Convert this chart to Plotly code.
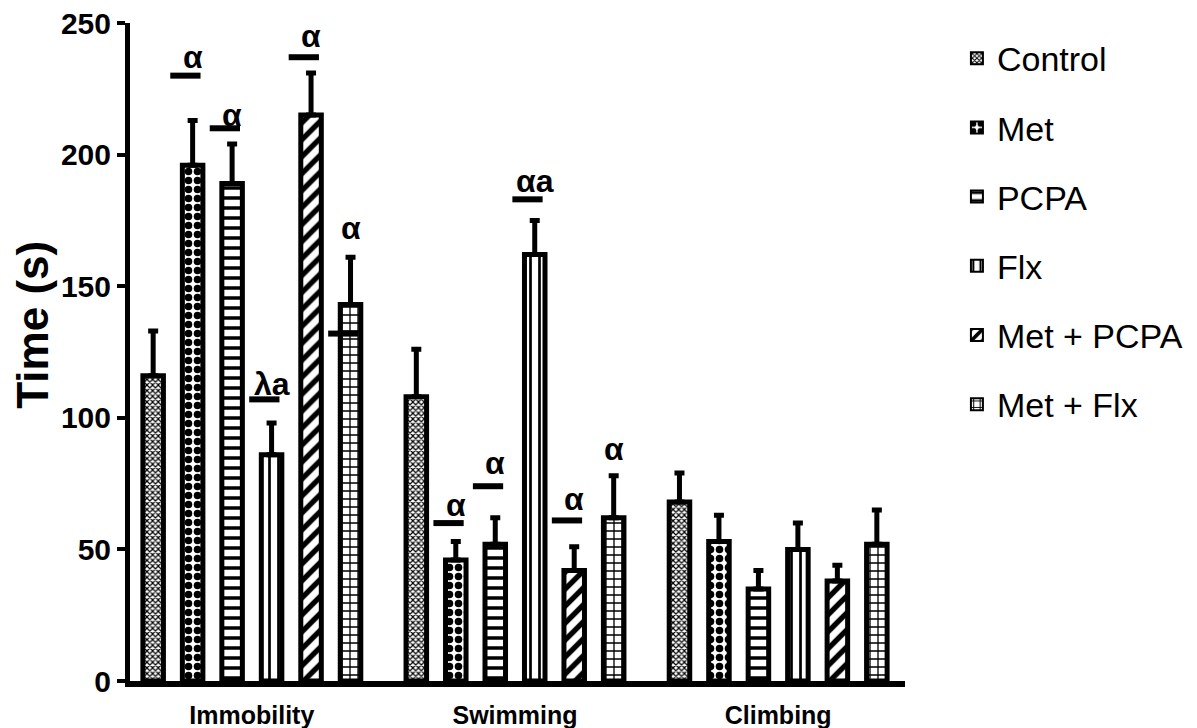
import plotly.graph_objects as go

categories = ["Immobility", "Swimming", "Climbing"]
groups = ["Control", "Met", "PCPA", "Flx", "Met + PCPA", "Met + Flx"]

control = [116, 108, 68]
control_err = [17, 18, 11]
met = [196, 46, 53]
met_err = [17, 7, 10]
pcpa = [189, 52, 35]
pcpa_err = [15, 10, 7]
flx = [86, 162, 50]
flx_err = [12, 13, 10]
met_pcpa = [215, 42, 38]
met_pcpa_err = [16, 9, 6]
met_flx = [143, 62, 52]
met_flx_err = [18, 16, 13]

values = [control, met, pcpa, flx, met_pcpa, met_flx]
errors = [control_err, met_err, pcpa_err, flx_err, met_pcpa_err, met_flx_err]

y_title = "Time (s)"

# significance marks: category index, group index, text, text y, line y (None = no line)
sig_cat = [0, 0, 0, 0, 0, 1, 1, 1, 1, 1]
sig_grp = [1, 2, 3, 4, 5, 1, 2, 3, 4, 5]
sig_text = ["α", "α", "λa", "α", "α", "α", "α", "αa", "α", "α"]
sig_text_y = [237, 215, 113, 245, 172, 67, 83, 190, 69, 88]
sig_line_y = [230, 210, 107, 237, 132, 60, 74, 183, 61, None]

patterns = [
    dict(shape="x", size=4, solidity=0.5),
    dict(shape=".", size=9, solidity=0.55),
    dict(shape="-", size=10, solidity=0.35),
    dict(shape="|", size=9, solidity=0.3),
    dict(shape="/", size=12, solidity=0.45),
    dict(shape="+", size=8, solidity=0.3),
]

BARGAP = 0.10
fig = go.Figure()
for i, g in enumerate(groups):
    p = patterns[i]
    fig.add_trace(go.Bar(
        name=g, x=categories, y=values[i],
        marker=dict(color="white", line=dict(color="black", width=5),
                    pattern=dict(shape=p["shape"], size=p["size"], solidity=p["solidity"],
                                 fgcolor="black", bgcolor="white", fillmode="replace")),
        error_y=dict(type="data", symmetric=False, array=errors[i],
                     arrayminus=[0] * len(categories), color="black", thickness=5, width=5),
        legendgroup=g,
    ))

slot = (1 - BARGAP) / len(groups)
shapes = []
annotations = []
for c, gi, t, ty, ly in zip(sig_cat, sig_grp, sig_text, sig_text_y, sig_line_y):
    xc = c + (gi - (len(groups) - 1) / 2) * slot
    annotations.append(dict(x=xc, y=ty, xref="x", yref="y", text=t, showarrow=False,
                            font=dict(family="Liberation Sans", size=32, color="black", weight="bold")))
    if ly is not None:
        shapes.append(dict(type="line", xref="x", yref="y", x0=xc - 0.085, x1=xc + 0.03,
                           y0=ly, y1=ly, line=dict(color="black", width=6)))

annotations.append(dict(x=-0.126, y=0.542, xref="paper", yref="paper", text=y_title,
                        textangle=-90, showarrow=False, xanchor="center", yanchor="middle",
                        font=dict(family="Liberation Sans", size=44, color="black", weight="bold")))

fig.update_layout(
    width=1197, height=728,
    margin=dict(l=122, r=300, t=15, b=55, autoexpand=False),
    paper_bgcolor="white", plot_bgcolor="white",
    barmode="group", bargap=BARGAP, bargroupgap=0.48,
    showlegend=True,
    legend=dict(x=1.067, y=0.99, xanchor="left", yanchor="top",
                font=dict(family="Liberation Sans", size=34, color="black"),
                tracegroupgap=22, itemsizing="constant", maxheight=700),
    shapes=shapes, annotations=annotations,
    font=dict(family="Liberation Sans", color="black"),
)
fig.update_xaxes(range=[-0.463, 2.482], showline=True, linecolor="black", linewidth=6,
                 ticks="", showgrid=False, zeroline=False, automargin=False,
                 tickfont=dict(family="Liberation Sans", size=25, color="black", weight="bold"),
                 ticklabelstandoff=7)
fig.update_yaxes(range=[0, 250], dtick=50, showline=True, linecolor="black", linewidth=5,
                 ticks="outside", ticklen=8, tickwidth=4, tickcolor="black",
                 showgrid=False, zeroline=False, automargin=False, ticklabeloverflow="allow",
                 tickfont=dict(family="Liberation Sans", size=30, color="black", weight="bold"))

fig.write_html("out.html")
